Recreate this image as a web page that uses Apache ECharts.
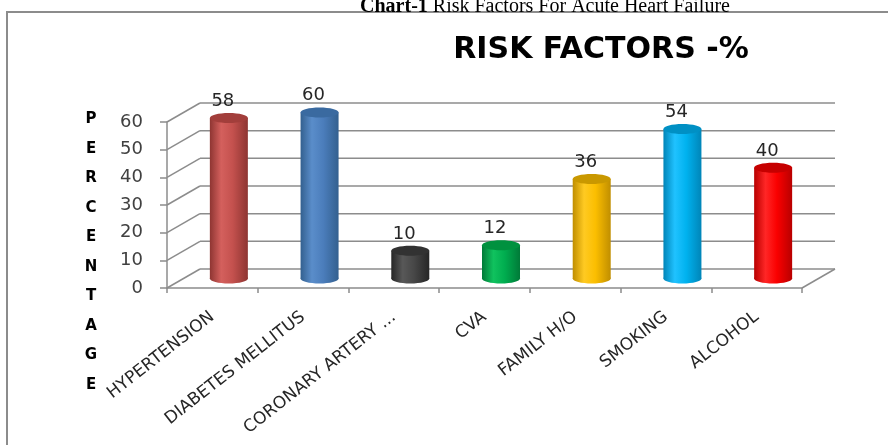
<!DOCTYPE html>
<html>
<head>
<meta charset="utf-8">
<script src="https://cdn.jsdelivr.net/npm/echarts@6/dist/echarts.min.js"></script>
<style>
  html, body { margin: 0; padding: 0; background: #ffffff; }
  #chart { width: 888px; height: 445px; }
</style>
</head>
<body>
<div id="chart"></div>
<script>
// Risk factors for acute heart failure (percentage of patients)
const categories = ['HYPERTENSION', 'DIABETES MELLITUS', 'CORONARY ARTERY ...', 'CVA', 'FAMILY H/O', 'SMOKING', 'ALCOHOL'];
const values = [58, 60, 10, 12, 36, 54, 40];
const yTicks = [0, 10, 20, 30, 40, 50, 60];

// cylinder colours: [edge, highlight, body, top cap]
const barColors = [
  ['#8e3532', '#d4605d', '#c4514e', '#a23e3b'],
  ['#33608f', '#5a8dca', '#4b7dbb', '#3a6aa0'],
  ['#262626', '#585858', '#474747', '#323232'],
  ['#007a38', '#10c25e', '#00ad4f', '#00913f'],
  ['#c08e00', '#ffca22', '#fbbe00', '#c99800'],
  ['#0085b8', '#20c2ff', '#00b2ef', '#0090c4'],
  ['#b80000', '#ff2626', '#fa0000', '#c60000']
];

// depth offsets of the pseudo-3D box
const DEPTH_X = 33, DEPTH_Y = -19;
const GRID_COLOR = '#8c8c8c';

const chart = echarts.init(document.getElementById('chart'), null, { renderer: 'canvas' });

function wallsItem(params, api) {
  const cs = params.coordSys;
  const v = api.value(1);
  const y = api.coord([0, v])[1];
  const x0 = cs.x, x1 = cs.x + cs.width;
  const style = { stroke: GRID_COLOR, lineWidth: 1.5 };
  const children = [
    { type: 'line', shape: { x1: x0, y1: y, x2: x0 + DEPTH_X, y2: y + DEPTH_Y }, style },
    { type: 'line', shape: { x1: x0 + DEPTH_X, y1: y + DEPTH_Y, x2: x1 + DEPTH_X, y2: y + DEPTH_Y }, style }
  ];
  if (v === 0) {
    children.push({ type: 'line', shape: { x1: x1, y1: y, x2: x1 + DEPTH_X, y2: y + DEPTH_Y }, style });
  }
  return { type: 'group', children };
}

function cylinderItem(params, api) {
  const i = api.value(0);
  const v = api.value(1);
  const base = api.coord([i, 0]);
  const top = api.coord([i, v]);
  const cx = base[0] + DEPTH_X / 2;
  const yb = base[1] + DEPTH_Y / 2;
  const yt = top[1] + DEPTH_Y / 2;
  const rx = 19, ry = 5;
  const c = barColors[i];
  const body = {
    type: 'linear', x: 0, y: 0, x2: 1, y2: 0,
    colorStops: [
      { offset: 0, color: c[0] },
      { offset: 0.3, color: c[1] },
      { offset: 0.6, color: c[2] },
      { offset: 1, color: c[0] }
    ]
  };
  return {
    type: 'group',
    children: [
      { type: 'ellipse', shape: { cx: cx, cy: yb, rx: rx, ry: ry }, style: { fill: body } },
      { type: 'rect', shape: { x: cx - rx, y: yt, width: rx * 2, height: yb - yt }, style: { fill: body } },
      { type: 'ellipse', shape: { cx: cx, cy: yt, rx: rx, ry: ry }, style: { fill: c[3] } },
      {
        type: 'text',
        x: cx - 6, y: yt - 17,
        style: {
          text: String(v), fill: '#262626',
          font: '18px "DejaVu Sans"', align: 'center', verticalAlign: 'middle'
        }
      }
    ]
  };
}

const option = {
  animation: false,
  backgroundColor: '#ffffff',
  grid: { left: 167, right: 86, top: 122, bottom: 157 },
  xAxis: {
    type: 'category',
    data: categories,
    boundaryGap: true,
    axisLine: { lineStyle: { color: GRID_COLOR, width: 1.5 } },
    axisTick: { show: true, length: 5, lineStyle: { color: GRID_COLOR, width: 1.5 } },
    axisLabel: {
      rotate: 38, margin: 27, interval: 0,
      fontFamily: 'DejaVu Sans', fontSize: 17, color: '#262626'
    }
  },
  yAxis: {
    type: 'value', min: 0, max: 60, interval: 10,
    axisLine: { show: true, lineStyle: { color: GRID_COLOR, width: 1.5 } },
    axisTick: { show: true, length: 7, lineStyle: { color: GRID_COLOR, width: 1.5 } },
    splitLine: { show: false },
    axisLabel: { margin: 24, fontFamily: 'DejaVu Sans', fontSize: 18, color: '#404040' }
  },
  series: [
    {
      type: 'custom', name: 'walls', z: 1, silent: true,
      data: yTicks.map(v => [0, v]),
      encode: { x: 0, y: 1 },
      renderItem: wallsItem
    },
    {
      type: 'custom', name: 'Risk factors', z: 3,
      data: values.map((v, i) => [i, v]),
      encode: { x: 0, y: 1 },
      renderItem: cylinderItem
    }
  ],
  graphic: [
    {
      type: 'rect', z: -1,
      shape: { x: 7, y: 12, width: 900, height: 460 },
      style: { fill: 'none', stroke: GRID_COLOR, lineWidth: 2 }
    },
    {
      type: 'text', x: 545, y: 17,
      style: {
        text: '{b|Chart-1} Risk Factors For Acute Heart Failure',
        font: '20px "Liberation Serif"', fill: '#000',
        rich: { b: { font: 'bold 20px "Liberation Serif"', fill: '#000' } },
        align: 'center', verticalAlign: 'bottom'
      }
    },
    {
      type: 'text', x: 601, y: 50,
      style: {
        text: 'RISK FACTORS -%', fill: '#000',
        font: 'bold 30px "DejaVu Sans"', align: 'center', verticalAlign: 'middle'
      }
    },
    {
      type: 'text', x: 91, y: 252,
      style: {
        text: 'P\nE\nR\nC\nE\nN\nT\nA\nG\nE', fill: '#000',
        font: 'bold 15px "DejaVu Sans"', lineHeight: 29.5,
        align: 'center', verticalAlign: 'middle'
      }
    }
  ]
};

chart.setOption(option);
</script>
</body>
</html>
